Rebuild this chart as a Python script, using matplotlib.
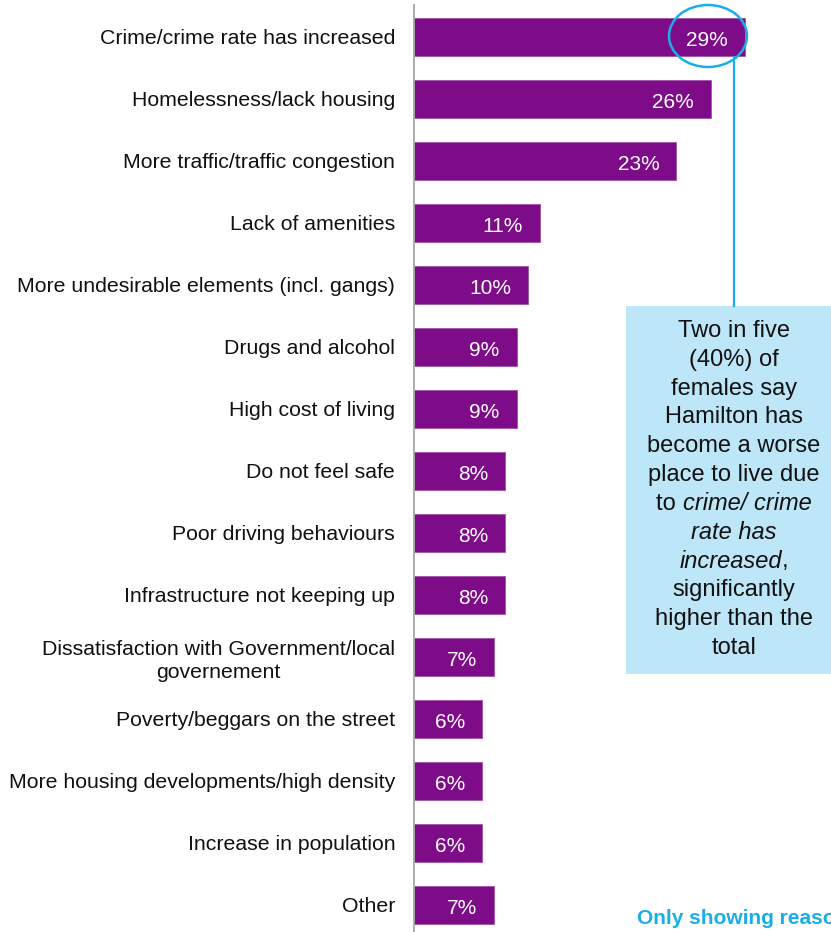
import matplotlib
matplotlib.use('Agg')
import matplotlib.pyplot as plt
from matplotlib.patches import Ellipse, Rectangle
from matplotlib.lines import Line2D

plt.rcParams['font.family'] = ['Liberation Sans', 'DejaVu Sans']

categories = [
    'Crime/crime rate has increased',
    'Homelessness/lack housing',
    'More traffic/traffic congestion',
    'Lack of amenities',
    'More undesirable elements (incl. gangs)',
    'Drugs and alcohol',
    'High cost of living',
    'Do not feel safe',
    'Poor driving behaviours',
    'Infrastructure not keeping up',
    'Dissatisfaction with Government/local\ngovernement',
    'Poverty/beggars on the street',
    'More housing developments/high density',
    'Increase in population',
    'Other',
]
values = [29, 26, 23, 11, 10, 9, 9, 8, 8, 8, 7, 6, 6, 6, 7]

BAR_COLOR = '#7E0C89'
CYAN = '#1AAEE8'
BOX_COLOR = '#BDE6F8'

W, H = 831, 932
fig = plt.figure(figsize=(W / 100, H / 100), dpi=100)

def fx(px):
    return px / W

def fy(py):
    return 1 - py / H

# axes: zero line at x=414 px, rows centred at 37 + 62*i px
ax = fig.add_axes([fx(414), 0, 1 - fx(414), fy(5)])
ypos = list(range(len(categories)))
ax.barh(ypos, values, height=0.61, color=BAR_COLOR, edgecolor='#A452AC', linewidth=0.6)
ax.set_xlim(0, (W - 414) / 11.41)
ax.set_ylim((H - 37) / 62, (5 - 37) / 62)

for y, v in zip(ypos, values):
    ax.text(v - 1.5, y + 0.03, f'{v}%', ha='right', va='center_baseline',
            color='white', fontsize=15)

ax.set_yticks(ypos)
ax.set_yticklabels(categories, fontsize=15.3, color='#111111',
                   multialignment='center', linespacing=1.3)
ax.tick_params(axis='y', length=0, pad=13.5)
ax.set_xticks([])
for s in ['top', 'right', 'bottom']:
    ax.spines[s].set_visible(False)
ax.spines['left'].set_color('#A6A6A6')
ax.spines['left'].set_linewidth(1.3)

# highlight ellipse + connector + callout box
fig.add_artist(Ellipse((fx(708), fy(36)), 78 / W, 62 / H, transform=fig.transFigure,
                       fill=False, edgecolor=CYAN, linewidth=1.8, zorder=5))
fig.add_artist(Line2D([fx(734), fx(734)], [fy(57), fy(306)], transform=fig.transFigure,
                      color=CYAN, linewidth=1.6))
fig.add_artist(Rectangle((fx(626), fy(674)), fx(W) - fx(626) + 0.01, (674 - 306) / H,
                         transform=fig.transFigure, facecolor=BOX_COLOR, edgecolor='none'))

box_lines = [
    [('Two in five', 'normal')],
    [('(40%) of', 'normal')],
    [('females say', 'normal')],
    [('Hamilton has', 'normal')],
    [('become a worse', 'normal')],
    [('place to live due', 'normal')],
    [('to ', 'normal'), ('crime/ crime', 'italic')],
    [('rate has', 'italic')],
    [('increased', 'italic'), (',', 'normal')],
    [('significantly', 'normal')],
    [('higher than the', 'normal')],
    [('total', 'normal')],
]

renderer = fig.canvas.get_renderer()
xc = 734
for k, parts in enumerate(box_lines):
    ty = fy(331 + 28.8 * k)
    texts = []
    for s, style in parts:
        t = fig.text(0, ty, s, fontsize=17, style=style, ha='left', va='center', color='#111111')
        texts.append(t)
    widths = [t.get_window_extent(renderer).width for t in texts]
    x = xc - sum(widths) / 2
    for t, w in zip(texts, widths):
        t.set_x(fx(x))
        x += w

# footnote runs off the right edge, as in the source slide
fig.text(fx(637), fy(918), 'Only showing reasons',
         fontsize=15, fontweight='bold', color=CYAN, ha='left', va='center')

fig.savefig('out.png', dpi=100)
